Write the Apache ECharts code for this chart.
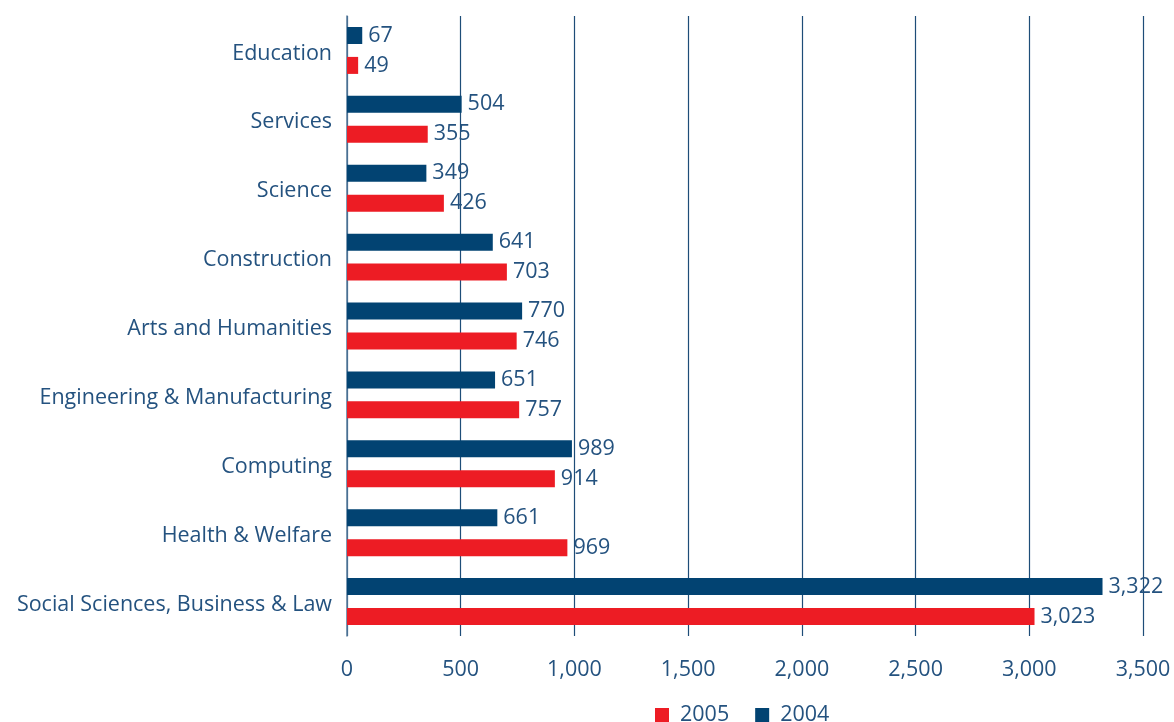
<!DOCTYPE html>
<html>
<head>
<meta charset="utf-8">
<script src="https://cdn.jsdelivr.net/npm/echarts@6/dist/echarts.min.js"></script>
<style>
  html, body { margin: 0; padding: 0; background: #fff; }
  #chart { width: 1174px; height: 722px; }
</style>
</head>
<body>
<div id="chart"></div>
<script>
// categories listed bottom -> top
const categories = [
  'Social Sciences, Business & Law',
  'Health & Welfare',
  'Computing',
  'Engineering & Manufacturing',
  'Arts and Humanities',
  'Construction',
  'Science',
  'Services',
  'Education'
];
const values2005 = [3023, 969, 914, 757, 746, 703, 426, 355, 49];
const values2004 = [3322, 661, 989, 651, 770, 641, 349, 504, 67];
const xTicks = { min: 0, max: 3500, interval: 500 };

const textColor = '#24527f';
const font = '"Open Sans", "Noto Sans", sans-serif';
const fs = 21.5;

let chart = echarts.init(document.getElementById('chart'));

let labelOpt = {
    show: true,
    position: 'right',
    distance: 6,
    color: textColor,
    fontFamily: font,
    fontSize: fs,
    formatter: function (p) { return p.value.toLocaleString('en-US'); }
};

let option = {
    animation: false,
    grid: { left: 347, right: 31, top: 16, bottom: 86 },
    legend: {
        data: ['2005', '2004'],
        left: 650,
        top: 699,
        itemWidth: 14,
        itemHeight: 14,
        itemGap: 26,
        icon: 'rect',
        textStyle: { color: textColor, fontFamily: font, fontSize: fs, padding: [0, 0, 0, 6] }
    },
    xAxis: {
        type: 'value',
        min: xTicks.min,
        max: xTicks.max,
        interval: xTicks.interval,
        axisLine: { show: false },
        axisTick: { show: false },
        axisLabel: {
            color: textColor,
            fontFamily: font,
            fontSize: fs,
            margin: 23,
            formatter: function (v) { return v.toLocaleString('en-US'); }
        },
        splitLine: { show: true, lineStyle: { color: '#1e4d78', width: 1.2 } }
    },
    yAxis: {
        type: 'category',
        data: categories,
        axisLine: { show: true, lineStyle: { color: '#5a7c9c', width: 1.5 } },
        axisTick: { show: false },
        axisLabel: {
            margin: 15,
            formatter: function (v) { return '{c|' + v + '}'; },
            rich: {
                c: { color: textColor, fontFamily: font, fontSize: fs, padding: [6, 0, 0, 0] }
            }
        }
    },
    series: [
        {
            name: '2004',
            type: 'bar',
            data: values2004,
            itemStyle: { color: '#024372' },
            barWidth: 17,
            barGap: '76%',
            label: labelOpt
        },
        {
            name: '2005',
            type: 'bar',
            data: values2005,
            itemStyle: { color: '#ed1c24' },
            barWidth: 17,
            label: labelOpt
        }
    ]
};

chart.setOption(option);
</script>
</body>
</html>
